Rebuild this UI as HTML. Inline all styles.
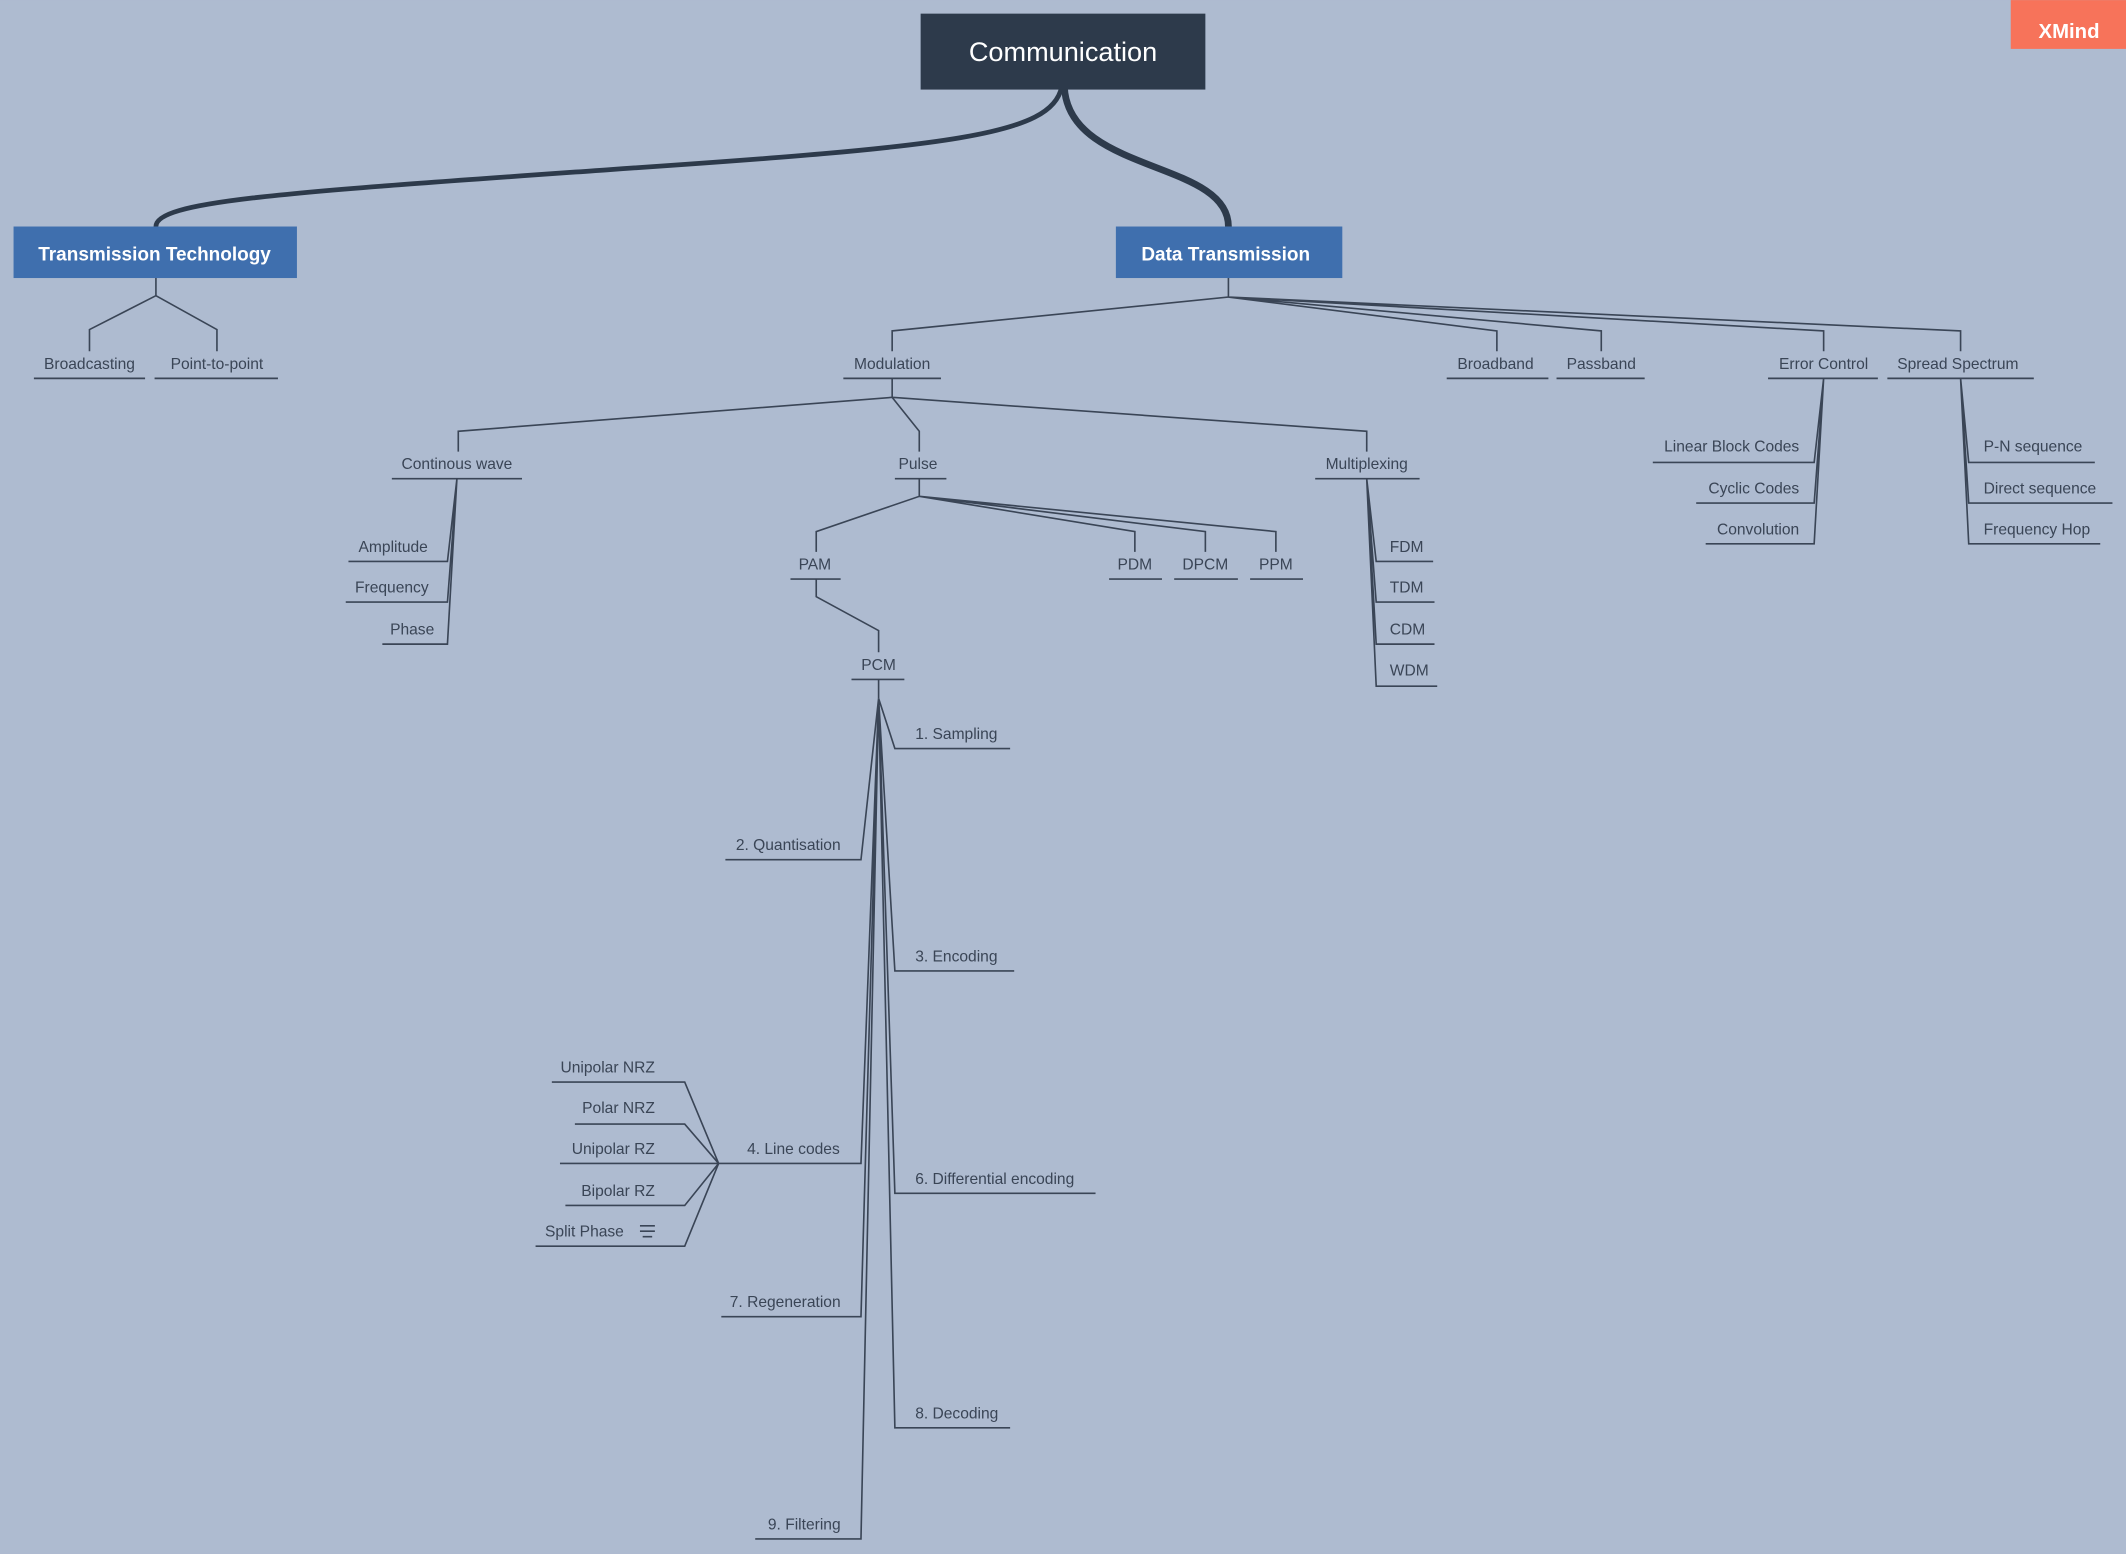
<!DOCTYPE html>
<html><head><meta charset="utf-8"><style>
html,body{margin:0;padding:0;background:#aebbd0;}
svg{display:block;}
text{font-family:"Liberation Sans","DejaVu Sans",sans-serif;}
.t{font-size:11.5px;fill:#3a4556;}
.l{stroke:#3a4556;stroke-width:1.2;fill:none;}
</style></head><body>
<svg width="2126" height="1554" viewBox="0 0 1568 1146" xmlns="http://www.w3.org/2000/svg">
<rect width="1568" height="1146" fill="#aebbd0"/>
<!-- main curves -->
<path d="M783,64 C776,100 700,108 450,125 C210,142 115,148 115,167" stroke="#2d3a4b" stroke-width="3.5" fill="none"/>
<path d="M785,64 C788,128 906,118 906,167" stroke="#2d3a4b" stroke-width="5" fill="none"/>
<rect x="679" y="10" width="210" height="56" fill="#2d3a4b"/>
<text x="784" y="45" text-anchor="middle" font-size="20" fill="#fff">Communication</text>
<rect x="1483" y="0" width="85" height="36" fill="#f7735a"/>
<text x="1526" y="28" text-anchor="middle" font-size="15" font-weight="bold" fill="#fff">XMind</text>
<rect x="10" y="167" width="209" height="38" fill="#3f6fae"/>
<text x="114" y="192" text-anchor="middle" font-size="14" font-weight="bold" fill="#fff">Transmission Technology</text>
<rect x="823" y="167" width="167" height="38" fill="#3f6fae"/>
<text x="904" y="192" text-anchor="middle" font-size="14" font-weight="bold" fill="#fff">Data Transmission</text>

<g class="l">
<!-- transmission -->
<path d="M115,205V218L66,243V259M115,218L160,243V259"/>
<path d="M25,279H107M114,279H205"/>
<!-- data transmission -->
<path d="M906,205V219L658,244V259M906,219L1104,244V259M906,219L1181,244V259M906,219L1345,244V259M906,219L1446,244V259"/>
<path d="M622,279H694M1067,279H1142M1148,279H1213M1304,279H1385M1392,279H1500"/>
<!-- modulation -->
<path d="M658,279V293L338,318V333M658,293L678,318V333M658,293L1008,318V333"/>
<path d="M289,353H385M660,353H698M970,353H1047"/>
<!-- continuous -->
<path d="M337,353L330,414H257M337,353L330,444H255M337,353L330,475H282"/>
<!-- pulse -->
<path d="M678,353V366L602,392V407M678,366L837,392V407M678,366L889,392V407M678,366L941,392V407"/>
<path d="M583,427H620M818,427H857M866,427H913M922,427H961"/>
<path d="M602,427V440L648,465V481M628,501H667"/>
<!-- PCM children -->
<path d="M648,501V515"/>
<path d="M648,515L660,552H745M648,515L635,634H535M648,515L660,716H748M648,515L635,858H530M648,515L660,880H808M648,515L635,971H532M648,515L660,1053H745M648,515L635,1135H557"/>
<!-- line codes -->
<path d="M530,858L505,798H407M530,858L505,829H424M530,858H413M530,858L505,889H417M530,858L505,919H395"/>
<!-- multiplexing -->
<path d="M1008,353L1015,414H1057M1008,353L1015,444H1058M1008,353L1015,475H1058M1008,353L1015,506H1060"/>
<!-- error control -->
<path d="M1345,279L1338,341H1219M1345,279L1338,371H1251M1345,279L1338,401H1258"/>
<!-- spread -->
<path d="M1446,279L1452,341H1545M1446,279L1452,371H1558M1446,279L1452,401H1549"/>
<path d="M472,904H483M472,908H483M474,912H481"/>
</g>

<g class="t" text-anchor="middle">
<text x="66" y="272">Broadcasting</text>
<text x="160" y="272">Point-to-point</text>
<text x="658" y="272">Modulation</text>
<text x="1103" y="272">Broadband</text>
<text x="1181" y="272">Passband</text>
<text x="1345" y="272">Error Control</text>
<text x="1444" y="272">Spread Spectrum</text>
<text x="337" y="346">Continous wave</text>
<text x="677" y="346">Pulse</text>
<text x="1008" y="346">Multiplexing</text>
<text x="290" y="407">Amplitude</text>
<text x="289" y="437">Frequency</text>
<text x="304" y="468">Phase</text>
<text x="601" y="420">PAM</text>
<text x="837" y="420">PDM</text>
<text x="889" y="420">DPCM</text>
<text x="941" y="420">PPM</text>
<text x="648" y="494">PCM</text>
</g>
<g class="t" text-anchor="start">
<text x="675" y="545">1. Sampling</text>
<text x="675" y="709">3. Encoding</text>
<text x="675" y="873">6. Differential encoding</text>
<text x="675" y="1046">8. Decoding</text>
<text x="551" y="851">4. Line codes</text>
<text x="1025" y="407">FDM</text>
<text x="1025" y="437">TDM</text>
<text x="1025" y="468">CDM</text>
<text x="1025" y="498">WDM</text>
<text x="1463" y="333">P-N sequence</text>
<text x="1463" y="364">Direct sequence</text>
<text x="1463" y="394">Frequency Hop</text>
<text x="402" y="912">Split Phase</text>
</g>
<g class="t" text-anchor="end">
<text x="620" y="627">2. Quantisation</text>
<text x="620" y="964">7. Regeneration</text>
<text x="620" y="1128">9. Filtering</text>
<text x="483" y="791">Unipolar NRZ</text>
<text x="483" y="821">Polar NRZ</text>
<text x="483" y="851">Unipolar RZ</text>
<text x="483" y="882">Bipolar RZ</text>
<text x="1327" y="333">Linear Block Codes</text>
<text x="1327" y="364">Cyclic Codes</text>
<text x="1327" y="394">Convolution</text>
</g>
</svg>
</body></html>
